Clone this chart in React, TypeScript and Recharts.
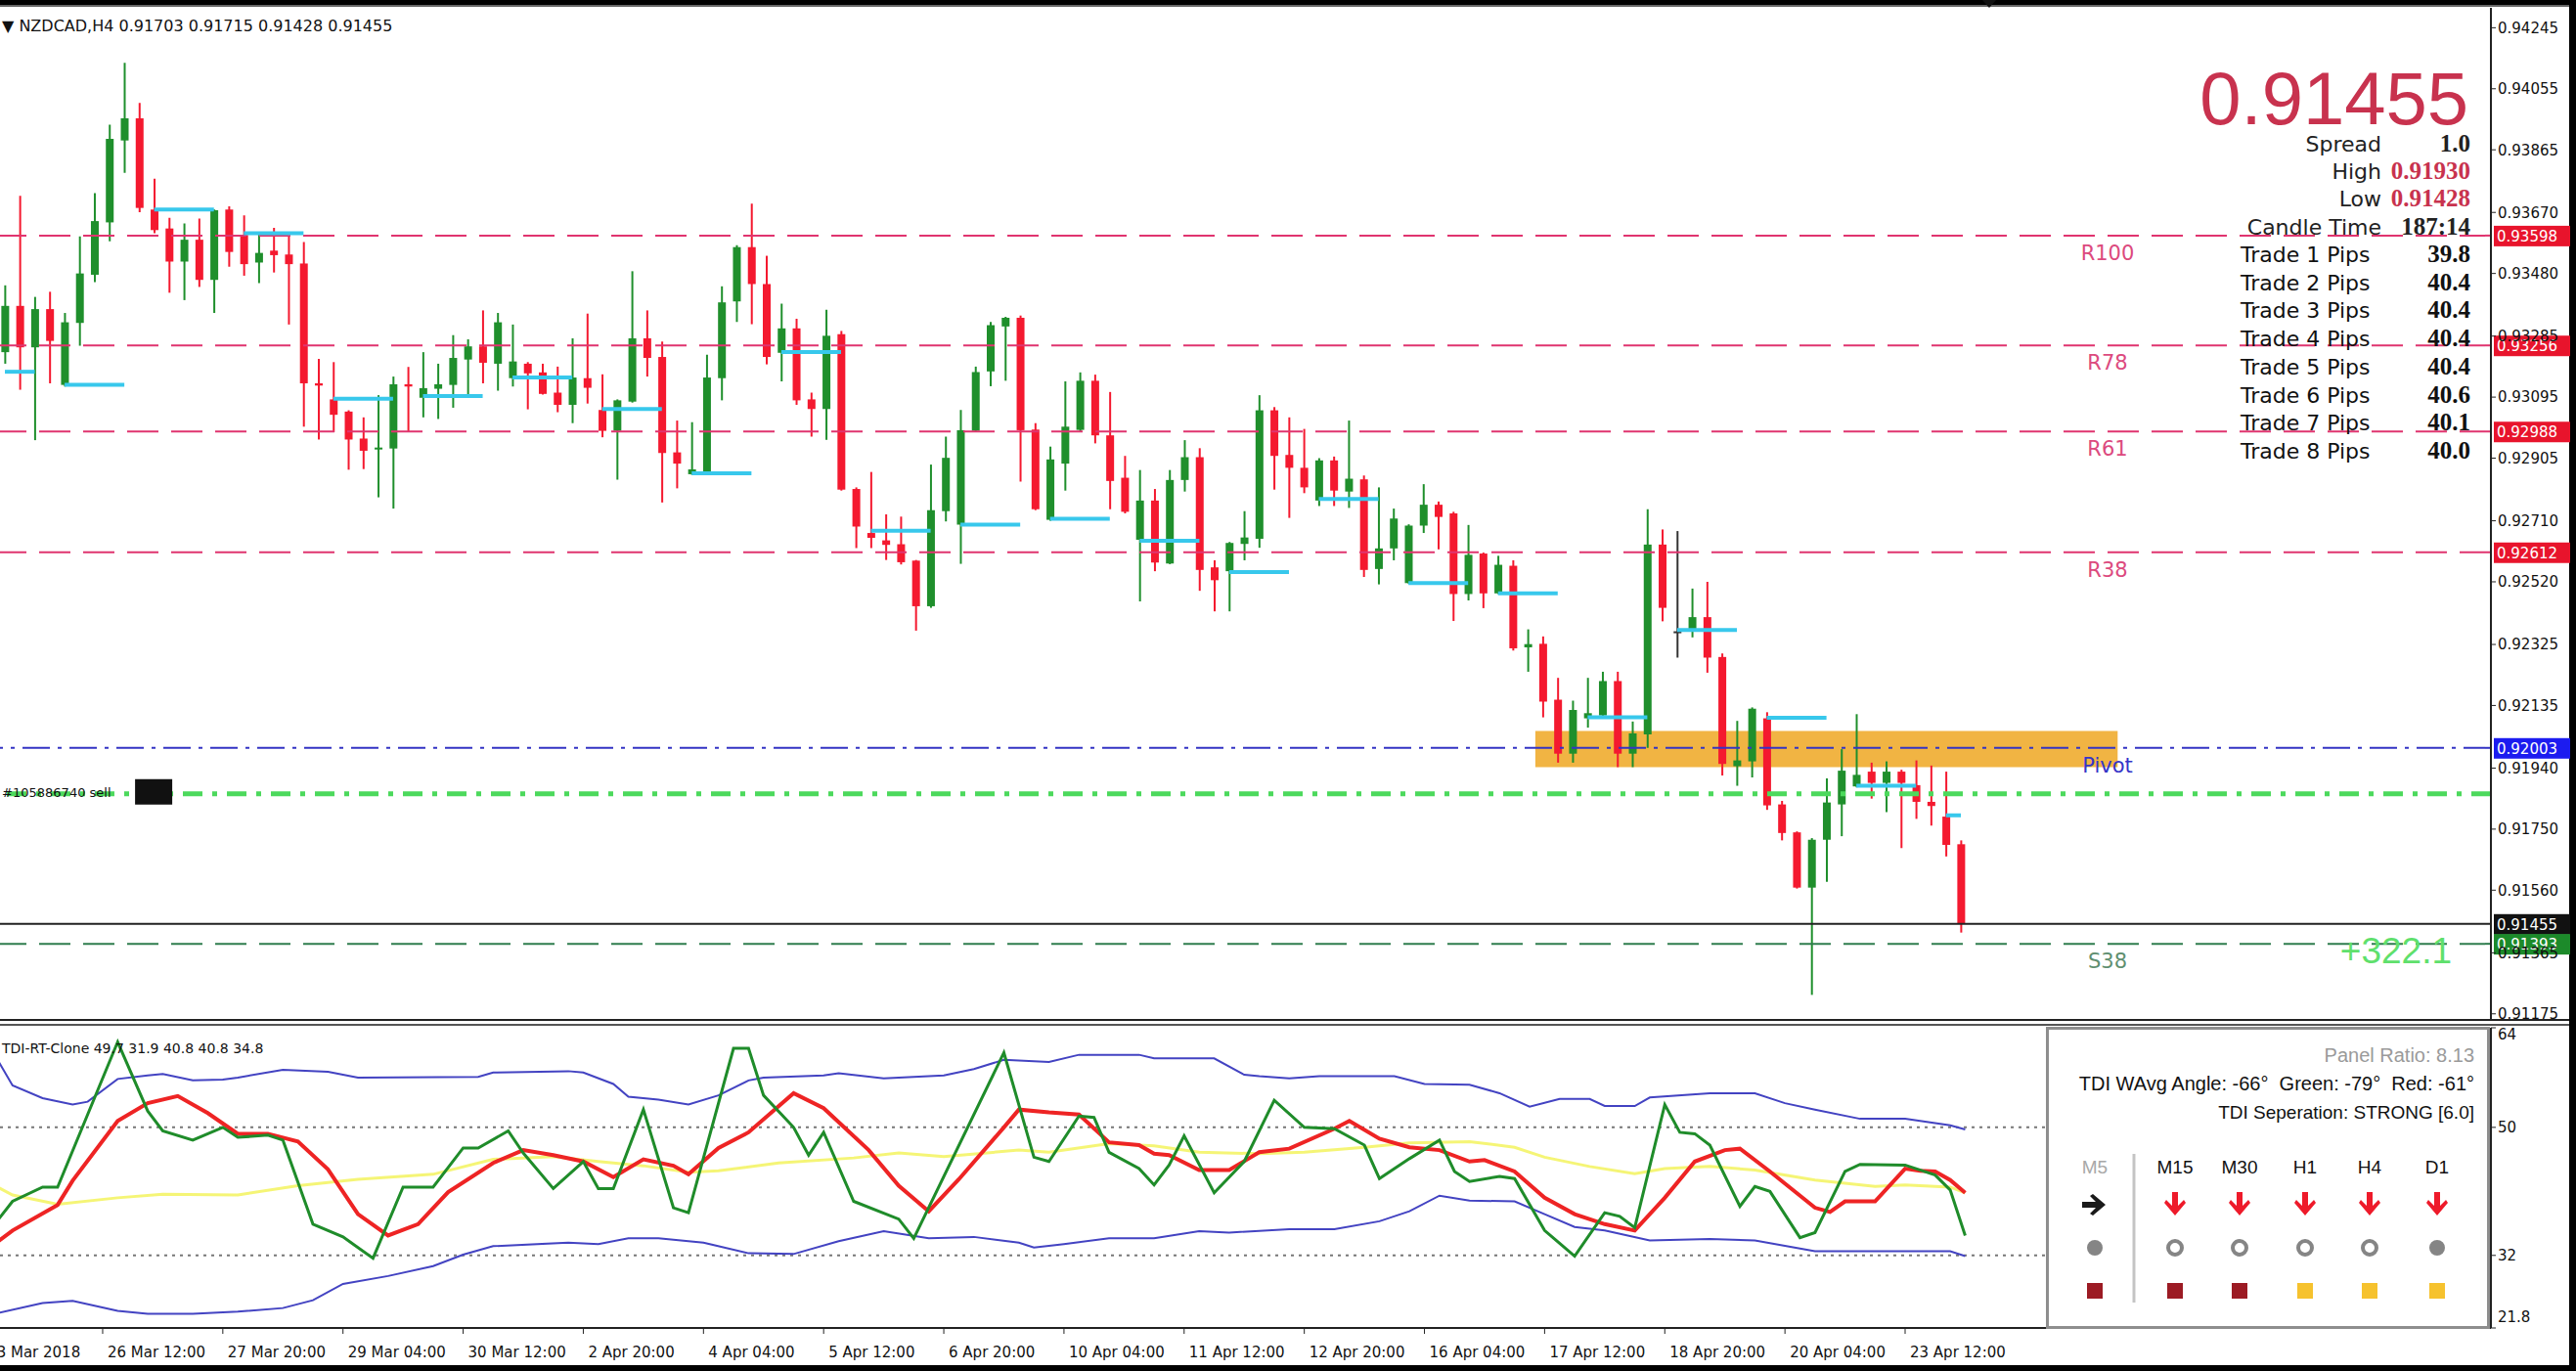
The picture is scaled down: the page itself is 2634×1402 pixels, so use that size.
import React from 'react';
import { Bar, ComposedChart, Line, ReferenceArea, ReferenceLine, XAxis, YAxis } from 'recharts';

const W = 2634;
const MAIN_H = 1043;
const AXIS_W = 87;
const PLOT_LEFT = -17.9;
const FIRST_SLOT = -1;
const LAST_SLOT = 166;

const GREEN = '#1f8f2c';
const RED = '#f4192f';
const PINK = '#e0346f';

// NZDCAD H4 candles
const OPEN = [
  0.93235, 0.93379, 0.9325, 0.93369, 0.93133, 0.93326, 0.93476, 0.93639, 0.93894, 0.93963,
  0.93679, 0.9362, 0.93517, 0.93585, 0.9346, 0.93679, 0.936, 0.93514, 0.93551, 0.93539,
  0.93511, 0.93138, 0.93088, 0.9305, 0.92966, 0.92932, 0.92935, 0.93135, 0.93093, 0.93121,
  0.93133, 0.93212, 0.93253, 0.93199, 0.93154, 0.93199, 0.93172, 0.93109, 0.93071, 0.93154,
  0.93055, 0.9299, 0.93081, 0.93278, 0.9322, 0.92923, 0.92855, 0.92862, 0.93154, 0.93393,
  0.93562, 0.93447, 0.93233, 0.93309, 0.93088, 0.93058, 0.93291, 0.92809, 0.92672, 0.92649,
  0.92637, 0.92586, 0.92444, 0.9274, 0.92698, 0.9299, 0.93175, 0.93315, 0.93342, 0.92994,
  0.92713, 0.92888, 0.92993, 0.93146, 0.92976, 0.92844, 0.92651, 0.92773, 0.92577, 0.92837,
  0.92908, 0.92565, 0.92553, 0.92638, 0.92654, 0.93054, 0.92915, 0.92875, 0.92773, 0.92898,
  0.92801, 0.92839, 0.9256, 0.92624, 0.92516, 0.92695, 0.9276, 0.92733, 0.92482, 0.92608,
  0.92484, 0.9257, 0.92316, 0.92327, 0.92153, 0.91985, 0.92095, 0.92104, 0.92211, 0.91985,
  0.92045, 0.92636, 0.92366, 0.92373, 0.9241, 0.92286, 0.91946, 0.91961, 0.92095, 0.91827,
  0.9174, 0.91568, 0.91717, 0.91827, 0.91883, 0.91929, 0.91894, 0.91929, 0.91887, 0.91835,
  0.91789, 0.91703,
];
const HIGH = [
  0.93443, 0.93722, 0.93407, 0.93423, 0.93357, 0.93595, 0.9373, 0.93943, 0.94136, 0.94011,
  0.93775, 0.93653, 0.93636, 0.93651, 0.93679, 0.93689, 0.93661, 0.93602, 0.93622, 0.936,
  0.93578, 0.93214, 0.93204, 0.93054, 0.93032, 0.93101, 0.93159, 0.93189, 0.93235, 0.93199,
  0.93288, 0.93275, 0.93365, 0.93357, 0.93321, 0.93204, 0.93199, 0.9319, 0.93278, 0.93355,
  0.93166, 0.93088, 0.93487, 0.93365, 0.93268, 0.93022, 0.93017, 0.93227, 0.9344, 0.93568,
  0.93697, 0.93535, 0.93386, 0.93339, 0.93109, 0.93367, 0.93301, 0.92814, 0.92862, 0.9273,
  0.92723, 0.92588, 0.92885, 0.92972, 0.93055, 0.9319, 0.93329, 0.93345, 0.93349, 0.93014,
  0.92941, 0.93144, 0.93172, 0.93165, 0.93111, 0.92912, 0.92868, 0.92809, 0.92868, 0.92961,
  0.92936, 0.92587, 0.92644, 0.9274, 0.93101, 0.93064, 0.93032, 0.92996, 0.92905, 0.9291,
  0.93022, 0.92851, 0.92814, 0.92748, 0.92699, 0.92824, 0.9277, 0.92738, 0.92697, 0.92611,
  0.92601, 0.92587, 0.92372, 0.9235, 0.92221, 0.9215, 0.92221, 0.9224, 0.9224, 0.92085,
  0.92746, 0.92683, 0.92678, 0.92499, 0.9252, 0.92297, 0.92087, 0.92129, 0.92114, 0.91838,
  0.91743, 0.91722, 0.91908, 0.91999, 0.92108, 0.91957, 0.91961, 0.91935, 0.91964, 0.91948,
  0.91929, 0.91715,
];
const LOW = [
  0.93199, 0.93118, 0.92961, 0.93138, 0.93128, 0.93255, 0.93453, 0.9358, 0.93793, 0.93671,
  0.93605, 0.9342, 0.93397, 0.93438, 0.93357, 0.93501, 0.93473, 0.9345, 0.93483, 0.93321,
  0.93003, 0.92963, 0.92986, 0.92869, 0.92871, 0.92783, 0.92748, 0.92986, 0.93032, 0.93027,
  0.93062, 0.93103, 0.93138, 0.93115, 0.93128, 0.93057, 0.93103, 0.93048, 0.93014, 0.93075,
  0.9297, 0.92838, 0.93078, 0.93159, 0.92767, 0.92811, 0.92853, 0.9286, 0.93085, 0.93329,
  0.93322, 0.93197, 0.93144, 0.93071, 0.92972, 0.92962, 0.92804, 0.92625, 0.92625, 0.92588,
  0.92574, 0.92368, 0.92439, 0.92708, 0.92576, 0.92987, 0.93129, 0.93146, 0.92832, 0.92743,
  0.9271, 0.92804, 0.92986, 0.92951, 0.92746, 0.92733, 0.92459, 0.92553, 0.92575, 0.92801,
  0.92492, 0.92428, 0.92428, 0.92587, 0.92626, 0.92807, 0.92719, 0.92796, 0.92756, 0.92756,
  0.9275, 0.92535, 0.92512, 0.92587, 0.92514, 0.92672, 0.92621, 0.92398, 0.92462, 0.92438,
  0.92482, 0.92306, 0.9224, 0.92098, 0.91957, 0.91957, 0.92066, 0.92095, 0.91943, 0.91943,
  0.92003, 0.92397, 0.92284, 0.92347, 0.92237, 0.91917, 0.91885, 0.91911, 0.9181, 0.91715,
  0.91565, 0.91234, 0.91586, 0.91728, 0.9188, 0.91845, 0.91803, 0.91691, 0.91782, 0.91761,
  0.91665, 0.91428,
];
const CLOSE = [
  0.93379, 0.9325, 0.93369, 0.9327, 0.93328, 0.9348, 0.93643, 0.93899, 0.93963, 0.93684,
  0.93615, 0.93517, 0.93585, 0.9346, 0.93677, 0.93547, 0.93509, 0.93544, 0.93537, 0.93509,
  0.93138, 0.93131, 0.9304, 0.92963, 0.92928, 0.92938, 0.93135, 0.93128, 0.93123, 0.93135,
  0.93217, 0.93253, 0.93202, 0.93328, 0.93206, 0.93169, 0.93105, 0.93071, 0.93156, 0.93124,
  0.9299, 0.93085, 0.93278, 0.93217, 0.92921, 0.92888, 0.9287, 0.93156, 0.9339, 0.93562,
  0.93447, 0.9322, 0.93309, 0.93085, 0.93058, 0.93286, 0.92807, 0.92692, 0.92657, 0.92635,
  0.92581, 0.92444, 0.92743, 0.92906, 0.92992, 0.93173, 0.93319, 0.93342, 0.92992, 0.92746,
  0.92901, 0.93003, 0.93146, 0.92976, 0.92834, 0.92738, 0.92773, 0.9258, 0.92837, 0.92908,
  0.92557, 0.92525, 0.92641, 0.92658, 0.93054, 0.92912, 0.92875, 0.92814, 0.92898, 0.92804,
  0.92841, 0.92557, 0.92624, 0.92717, 0.92695, 0.9276, 0.92722, 0.92482, 0.92604, 0.92484,
  0.92573, 0.92313, 0.92326, 0.92147, 0.91985, 0.92121, 0.92111, 0.92211, 0.91985, 0.92048,
  0.92636, 0.92439, 0.92366, 0.9241, 0.92284, 0.91953, 0.91964, 0.92125, 0.91824, 0.91738,
  0.91568, 0.91717, 0.91833, 0.91932, 0.91919, 0.91894, 0.91929, 0.91894, 0.91835, 0.91822,
  0.91701, 0.91455,
];

const PRICE_TICKS = [
  0.94245, 0.94055, 0.93865, 0.9367, 0.9348, 0.93285, 0.93095, 0.92905, 0.9271, 0.9252, 0.92325,
  0.92135, 0.9194, 0.9175, 0.9156, 0.91365, 0.91175,
];

const TIME_SLOTS = [-1, 7, 15, 23, 31, 39, 47, 55, 63, 71, 79, 87, 95, 103, 111, 119, 127];
const TIME_LABELS = [
  '23 Mar 2018', '26 Mar 12:00', '27 Mar 20:00', '29 Mar 04:00', '30 Mar 12:00', '2 Apr 20:00',
  '4 Apr 04:00', '5 Apr 12:00', '6 Apr 20:00', '10 Apr 04:00', '11 Apr 12:00', '12 Apr 20:00',
  '16 Apr 04:00', '17 Apr 12:00', '18 Apr 20:00', '20 Apr 04:00', '23 Apr 12:00',
];

const LEVEL_NAMES = ['R100', 'R78', 'R61', 'R38'];
const LEVEL_PRICES = [0.93598, 0.93256, 0.92988, 0.92612];
const PIVOT = 0.92003;
const S38 = 0.91393;
const BID = 0.91455;
const ORDER_PRICE = 0.9186;
const ORDER_TICKET = '#105886740 sell';
const PROFIT = '+322.1';
const ZONE_PRICES = [0.92056, 0.91943];
const ZONE_SLOTS = [103, 141];

const DAY_OPEN_FROM = [0, 4, 10, 16, 22, 28, 34, 40, 46, 52, 58, 64, 70, 76, 82, 88, 94, 100, 106, 112, 118, 124, 130];
const DAY_OPEN_TO = [2, 8, 14, 20, 26, 32, 38, 44, 50, 56, 62, 68, 74, 80, 86, 92, 98, 104, 110, 116, 122, 128, 131];
const DAY_OPEN_PRICE = [
  0.93174, 0.93133, 0.93679, 0.93605, 0.9309, 0.93098, 0.93156, 0.93058, 0.92858, 0.93235, 0.92679,
  0.92698, 0.92716, 0.92648, 0.9255, 0.92778, 0.92516, 0.92484, 0.92098, 0.9237, 0.92097, 0.91885,
  0.91793,
];

// TDI vertices [candle, value]
const TDI_GREEN = [
  [0, 36.9], [1, 39.6], [3, 41.6], [4, 41.6], [8, 62.0], [10, 52.3], [11, 49.5], [13, 48.2], [15, 50.0],
  [16, 48.6], [18, 48.9], [19, 48.2], [21, 36.4], [23, 34.6], [25, 31.6], [27, 41.6], [29, 41.6],
  [31, 47.1], [32, 47.1], [34, 49.5], [35, 46.4], [37, 41.4], [39, 45.2], [40, 41.4], [41, 41.4],
  [43, 52.5], [45, 38.7], [46, 38.0], [49, 61.1], [50, 61.1], [51, 54.5], [53, 50.0], [54, 46.1],
  [55, 49.3], [57, 39.6], [60, 37.1], [61, 34.4], [67, 60.5], [69, 45.8], [70, 45.2], [72, 51.6],
  [73, 51.4], [74, 46.5], [76, 44.2], [77, 41.9], [78, 44.7], [79, 48.8], [81, 40.8], [83, 45.2],
  [85, 53.8], [87, 50.0], [89, 49.8], [91, 47.5], [92, 42.8], [94, 45.6], [96, 48.2], [97, 43.8],
  [98, 42.4], [100, 43.1], [101, 42.8], [103, 35.5], [105, 31.9], [107, 38.0], [108, 37.5], [109, 35.9],
  [111, 53.2], [112, 49.3], [113, 49.1], [114, 47.5], [116, 38.9], [117, 41.7], [118, 41.0], [120, 34.5],
  [121, 35.2], [123, 43.8], [124, 44.8], [127, 44.7], [129, 43.3], [130, 41.2], [131, 34.8],
];
const TDI_RED = [
  [0, 33.9], [1, 35.5], [4, 39.1], [5, 42.5], [8, 50.9], [10, 53.4], [12, 54.4], [14, 52.0], [16, 49.1],
  [18, 49.1], [20, 48.0], [22, 44.1], [24, 37.8], [26, 34.8], [28, 36.4], [30, 40.9], [33, 45.0],
  [35, 46.8], [37, 46.1], [39, 45.2], [41, 43.0], [43, 45.5], [45, 44.6], [46, 43.4], [48, 47.1],
  [50, 49.3], [53, 54.8], [55, 52.7], [58, 46.8], [60, 41.8], [62, 38.2], [64, 42.7], [67, 50.0],
  [68, 52.5], [70, 52.1], [72, 51.8], [74, 47.9], [76, 47.5], [77, 46.3], [78, 46.1], [80, 44.0],
  [82, 44.0], [84, 46.5], [86, 47.0], [89, 49.8], [90, 50.9], [92, 48.4], [94, 47.2], [96, 46.8],
  [98, 45.2], [99, 45.4], [101, 43.8], [103, 40.1], [105, 37.8], [107, 36.4], [109, 35.5], [111, 40.1],
  [113, 45.2], [115, 46.8], [116, 47.0], [118, 43.8], [121, 38.7], [122, 38.1], [123, 39.6], [125, 39.6],
  [127, 44.2], [128, 43.9], [129, 43.8], [130, 42.6], [131, 40.8],
];
const TDI_UPPER = [
  [0, 59.5], [1, 55.9], [3, 54.1], [5, 53.2], [6, 53.6], [8, 56.8], [10, 57.3], [11, 57.5], [13, 56.6],
  [15, 56.7], [16, 57.0], [19, 58.1], [22, 57.8], [24, 57.0], [32, 57.1], [33, 57.7], [38, 57.9],
  [39, 57.7], [41, 56.1], [42, 54.3], [44, 53.9], [46, 53.2], [48, 54.5], [50, 56.6], [51, 57.0],
  [55, 57.3], [56, 57.6], [59, 56.9], [63, 57.3], [65, 58.2], [67, 59.5], [70, 59.2], [72, 60.2],
  [76, 60.2], [77, 59.7], [81, 59.7], [83, 57.4], [84, 57.2], [86, 56.9], [88, 57.2], [93, 57.2],
  [95, 56.1], [98, 56.0], [100, 54.8], [102, 52.9], [104, 54.0], [106, 54.0], [107, 53.0], [109, 53.0],
  [110, 54.2], [114, 54.8], [117, 54.8], [119, 53.4], [121, 52.5], [124, 51.2], [127, 51.2], [130, 50.3],
  [131, 49.7],
];
const TDI_LOWER = [
  [0, 23.9], [3, 25.3], [5, 25.6], [8, 24.2], [10, 23.8], [13, 23.8], [16, 24.1], [19, 24.6], [21, 25.7],
  [23, 28.0], [26, 29.1], [29, 30.5], [31, 32.1], [33, 33.3], [38, 33.8], [40, 33.6], [42, 34.4],
  [44, 34.4], [47, 33.8], [50, 32.3], [53, 32.2], [56, 34.0], [59, 35.4], [62, 34.4], [65, 34.6],
  [68, 33.8], [69, 33.1], [71, 33.6], [74, 34.4], [77, 34.4], [80, 35.4], [82, 35.2], [86, 35.7],
  [89, 35.7], [92, 36.8], [94, 38.2], [96, 40.4], [98, 39.7], [101, 39.6], [103, 37.8], [105, 36.0],
  [107, 35.5], [110, 34.1], [114, 34.3], [117, 34.1], [121, 32.6], [125, 32.6], [130, 32.6], [131, 31.9],
];
const TDI_MID = [
  [0, 41.6], [1, 40.5], [4, 39.2], [8, 40.1], [11, 40.6], [16, 40.5], [20, 41.8], [24, 42.7], [29, 43.4],
  [33, 45.5], [37, 45.9], [40, 45.2], [43, 44.6], [46, 43.7], [48, 43.9], [52, 45.0], [57, 45.7],
  [60, 46.4], [63, 45.9], [68, 46.8], [70, 46.5], [74, 47.7], [77, 47.4], [80, 46.5], [84, 46.3],
  [87, 46.5], [91, 47.2], [94, 47.8], [98, 48.0], [101, 47.2], [103, 45.8], [106, 44.5], [109, 43.5],
  [111, 44.2], [114, 44.5], [117, 44.0], [121, 42.6], [125, 41.7], [127, 41.9], [130, 41.6], [131, 40.8],
];
const TDI_TICKS = [64, 50, 32, 21.8];
const TDI_LEVELS = [50, 32];
const TDI_HEADER = 'TDI-RT-Clone 49.7 31.9 40.8 40.8 34.8';

const TRADE_PIPS = ['39.8', '40.4', '40.4', '40.4', '40.4', '40.6', '40.1', '40.0'];
const TF_NAMES = ['M5', 'M15', 'M30', 'H1', 'H4', 'D1'];
const TF_ARROW = ['right', 'down', 'down', 'down', 'down', 'down'];
const TF_DOT = ['solid', 'ring', 'ring', 'ring', 'ring', 'solid'];
const TF_BOX = ['weak', 'weak', 'weak', 'strong', 'strong', 'strong'];

const slots = Array.from({ length: LAST_SLOT - FIRST_SLOT + 1 }, (_, k) => FIRST_SLOT + k);

const candleRows = slots.map((i) =>
  i >= 0 && i < OPEN.length
    ? { i, o: OPEN[i], hi: HIGH[i], lo: LOW[i], c: CLOSE[i], range: [LOW[i], HIGH[i]] }
    : { i },
);

const pick = (pts: number[][], i: number) => {
  const p = pts.find((q) => q[0] === i);
  return p ? p[1] : null;
};

const tdiRows = slots.map((i) => ({
  i,
  up: pick(TDI_UPPER, i),
  lo: pick(TDI_LOWER, i),
  mid: pick(TDI_MID, i),
  red: pick(TDI_RED, i),
  green: pick(TDI_GREEN, i),
}));

function Candle(props: any) {
  const { x, y, width, height, payload } = props;
  if (!payload || payload.o == null || !Number.isFinite(y)) return <g />;
  const top = Math.min(y, y + height);
  const h = Math.abs(height);
  const { o, hi, lo, c } = payload;
  const toY = (v: number) => top + ((hi - v) / (hi - lo)) * h;
  const color = c === o ? '#333' : c > o ? GREEN : RED;
  const bodyTop = toY(Math.max(o, c));
  const bodyBot = toY(Math.min(o, c));
  const cx = x + width / 2;
  return (
    <g>
      <line x1={cx} x2={cx} y1={top} y2={top + h} stroke={color} strokeWidth={2} />
      <rect x={x} y={bodyTop} width={width} height={Math.max(bodyBot - bodyTop, 2)} fill={color} />
    </g>
  );
}

function LevelLabel(props: any) {
  const { viewBox, name, nameFill, tag, tagFill } = props;
  if (!viewBox) return <g />;
  const right = viewBox.x + viewBox.width;
  const y = viewBox.y;
  return (
    <g>
      {name ? (
        <text x={right - 392} y={y + 25} textAnchor="middle" fontSize={21} fill={nameFill} fontFamily="DejaVu Sans">
          {name}
        </text>
      ) : null}
      {tag ? (
        <g>
          <rect x={right + 3} y={y - 10} width={78} height={21} fill={tagFill} />
          <text x={right + 6} y={y + 6} fontSize={15} fill="#fff" fontFamily="DejaVu Sans">
            {tag}
          </text>
        </g>
      ) : null}
    </g>
  );
}

function OrderLabel(props: any) {
  const { viewBox } = props;
  if (!viewBox) return <g />;
  return (
    <g>
      <text x={viewBox.x + 20} y={viewBox.y + 3} fontSize={13} fill="#111" fontFamily="DejaVu Sans">
        {ORDER_TICKET}
      </text>
      <rect x={viewBox.x + 156} y={viewBox.y - 15} width={38} height={26} fill="#111" />
    </g>
  );
}

function S38Label(props: any) {
  const { viewBox } = props;
  if (!viewBox) return <g />;
  const right = viewBox.x + viewBox.width;
  return (
    <g>
      <LevelLabel viewBox={viewBox} name="S38" nameFill="#5f8f70" tag={S38.toFixed(5)} tagFill="#1c8a2a" />
      <text x={right - 40} y={viewBox.y + 20} textAnchor="end" fontSize={37} fill="#5fe06c" fontFamily="Liberation Sans">
        {PROFIT}
      </text>
    </g>
  );
}

function TimeTick(props: any) {
  const { x, y, payload } = props;
  const k = TIME_SLOTS.indexOf(payload.value);
  return (
    <text x={x + 5} y={y + 22} fontSize={15} fill="#111" fontFamily="DejaVu Sans">
      {TIME_LABELS[k]}
    </text>
  );
}

function TdiTick(props: any) {
  const { x, y, payload } = props;
  const v = payload.value;
  const dy = v === 64 ? 12 : v === 21.8 ? -6 : 5;
  return (
    <text x={x} y={y + dy} fontSize={15} fill="#111" fontFamily="DejaVu Sans">
      {String(v)}
    </text>
  );
}

function MainChart() {
  return (
    <ComposedChart width={W} height={MAIN_H} data={candleRows} margin={{ top: 8, right: 0, bottom: 0, left: PLOT_LEFT }}>
      <XAxis dataKey="i" type="category" hide />
      <YAxis
        orientation="right"
        width={AXIS_W}
        domain={[0.91156, 0.94307]}
        allowDataOverflow
        ticks={PRICE_TICKS}
        interval={0}
        tickFormatter={(v: number) => v.toFixed(5)}
        tick={{ fontSize: 15, fill: '#111', fontFamily: 'DejaVu Sans' }}
        tickSize={5}
        tickLine={{ stroke: '#222' }}
        axisLine={{ stroke: '#222', strokeWidth: 2 }}
      />
      <ReferenceArea
        x1={ZONE_SLOTS[0]}
        x2={ZONE_SLOTS[1]}
        y1={ZONE_PRICES[0]}
        y2={ZONE_PRICES[1]}
        fill="#f1b443"
        fillOpacity={1}
        stroke="none"
      />
      <Bar dataKey="range" barSize={8} isAnimationActive={false} shape={(p: any) => <Candle {...p} />} />
      {LEVEL_PRICES.map((p, k) => (
        <ReferenceLine
          key={LEVEL_NAMES[k]}
          y={p}
          stroke={PINK}
          strokeWidth={2}
          strokeDasharray="32 13"
          label={(lp: any) => (
            <LevelLabel {...lp} name={LEVEL_NAMES[k]} nameFill="#dc4a7e" tag={p.toFixed(5)} tagFill="#e8142c" />
          )}
        />
      ))}
      <ReferenceLine
        y={PIVOT}
        stroke="#3434c4"
        strokeWidth={2}
        strokeDasharray="28 8 4 8"
        label={(lp: any) => <LevelLabel {...lp} name="Pivot" nameFill="#3535c8" tag={PIVOT.toFixed(5)} tagFill="#1c1cf0" />}
      />
      <ReferenceLine
        y={ORDER_PRICE}
        stroke="#4cd95c"
        strokeWidth={5}
        strokeDasharray="20 10 5 10"
        label={(lp: any) => <OrderLabel {...lp} />}
      />
      <ReferenceLine
        y={BID}
        stroke="#222"
        strokeWidth={2}
        label={(lp: any) => <LevelLabel {...lp} tag={BID.toFixed(5)} tagFill="#111" />}
      />
      <ReferenceLine
        y={S38}
        stroke="#2f7d4e"
        strokeWidth={2}
        strokeDasharray="32 13"
        label={(lp: any) => <S38Label {...lp} />}
      />
      {DAY_OPEN_PRICE.map((p, k) => (
        <ReferenceLine
          key={'d' + k}
          segment={[
            { x: DAY_OPEN_FROM[k], y: p },
            { x: DAY_OPEN_TO[k], y: p },
          ]}
          stroke="#38c8ec"
          strokeWidth={4}
        />
      ))}
    </ComposedChart>
  );
}

function TdiChart() {
  return (
    <ComposedChart width={W} height={355} data={tdiRows} margin={{ top: 8, right: 0, bottom: 0, left: PLOT_LEFT }}>
      <XAxis
        dataKey="i"
        type="category"
        ticks={TIME_SLOTS}
        interval={0}
        height={40}
        tickSize={6}
        tick={<TimeTick />}
        tickLine={{ stroke: '#222' }}
        axisLine={{ stroke: '#222', strokeWidth: 2 }}
      />
      <YAxis
        orientation="right"
        width={AXIS_W}
        domain={[21.8, 64]}
        allowDataOverflow
        ticks={TDI_TICKS}
        interval={0}
        tickSize={5}
        tick={<TdiTick />}
        tickLine={{ stroke: '#222' }}
        axisLine={{ stroke: '#222', strokeWidth: 2 }}
      />
      {TDI_LEVELS.map((v) => (
        <ReferenceLine key={v} y={v} stroke="#777" strokeWidth={2} strokeDasharray="3 5" />
      ))}
      <Line dataKey="mid" stroke="#f3f35e" strokeOpacity={0.85} strokeWidth={3} dot={false} connectNulls isAnimationActive={false} />
      <Line dataKey="up" stroke="#4343c2" strokeWidth={2} dot={false} connectNulls isAnimationActive={false} />
      <Line dataKey="lo" stroke="#4343c2" strokeWidth={2} dot={false} connectNulls isAnimationActive={false} />
      <Line dataKey="red" stroke="#ee2424" strokeWidth={4} dot={false} connectNulls isAnimationActive={false} />
      <Line dataKey="green" stroke="#1f8c2a" strokeWidth={3} dot={false} connectNulls isAnimationActive={false} />
    </ComposedChart>
  );
}

function Arrow({ cx, cy, dir }: { cx: number; cy: number; dir: string }) {
  const pts = [
    [-3, -13], [3, -13], [3, 1], [9, -5], [11, -2], [0, 11], [-11, -2], [-9, -5], [-3, 1],
  ];
  const rot = dir === 'right' ? -90 : 0;
  return (
    <polygon
      points={pts.map((p) => `${cx + p[0]},${cy + p[1]}`).join(' ')}
      fill={dir === 'right' ? '#1a1a1a' : '#ee1a2a'}
      transform={`rotate(${rot} ${cx} ${cy})`}
    />
  );
}

function TdiPanel() {
  const cols = [47, 129, 195, 262, 328, 397];
  return (
    <div
      style={{
        position: 'absolute',
        left: 2092,
        top: 1050,
        width: 454,
        height: 309,
        boxSizing: 'border-box',
        border: '3px solid #8e8e8e',
        background: '#fff',
      }}
    >
      <svg width={448} height={303} style={{ position: 'absolute', left: 0, top: 0 }} fontFamily="Liberation Sans">
        <text x={435} y={33} textAnchor="end" fontSize={20} fill="#9a9a9a">Panel Ratio: 8.13</text>
        <text x={435} y={62} textAnchor="end" fontSize={20} fill="#111">
          {'TDI WAvg Angle: -66°\u00a0\u00a0Green: -79°\u00a0\u00a0Red: -61°'}
        </text>
        <text x={435} y={91} textAnchor="end" fontSize={19} fill="#111">TDI Seperation: STRONG [6.0]</text>
        <line x1={87} x2={87} y1={127} y2={279} stroke="#c4c4c4" strokeWidth={3} />
        {TF_NAMES.map((n, k) => (
          <g key={n}>
            <text x={cols[k]} y={147} textAnchor="middle" fontSize={19} fill={k === 0 ? '#a8a8a8' : '#111'}>{n}</text>
            <Arrow cx={cols[k]} cy={179} dir={TF_ARROW[k]} />
            {TF_DOT[k] === 'solid' ? (
              <circle cx={cols[k]} cy={223} r={8} fill="#858585" />
            ) : (
              <circle cx={cols[k]} cy={223} r={7} fill="none" stroke="#858585" strokeWidth={4} />
            )}
            <rect x={cols[k] - 8} y={259} width={16} height={16} fill={TF_BOX[k] === 'weak' ? '#9c1b24' : '#f6c22e'} />
          </g>
        ))}
      </svg>
    </div>
  );
}

function InfoOverlay() {
  const rowsY = [155, 183, 211, 240];
  return (
    <svg
      width={W}
      height={1402}
      style={{ position: 'absolute', left: 0, top: 0, pointerEvents: 'none' }}
      fontFamily="DejaVu Sans"
    >
      <polygon points="2027,0 2041,0 2034,8" fill="#111" />
      <text x={2} y={32} fontSize={16} fill="#111">▼ NZDCAD,H4 0.91703 0.91715 0.91428 0.91455</text>
      <text x={2524} y={127} textAnchor="end" fontSize={76} fill="#c8324e" fontFamily="Liberation Sans">
        {BID.toFixed(5)}
      </text>
      <text x={2435} y={rowsY[0]} textAnchor="end" fontSize={22} fill="#222">Spread</text>
      <text x={2526} y={rowsY[0]} textAnchor="end" fontSize={25} fontWeight="bold" fill="#222" fontFamily="Liberation Serif">1.0</text>
      <text x={2435} y={rowsY[1]} textAnchor="end" fontSize={22} fill="#222">High</text>
      <text x={2526} y={rowsY[1]} textAnchor="end" fontSize={25} fontWeight="bold" fill="#c8324e" fontFamily="Liberation Serif">0.91930</text>
      <text x={2435} y={rowsY[2]} textAnchor="end" fontSize={22} fill="#222">Low</text>
      <text x={2526} y={rowsY[2]} textAnchor="end" fontSize={25} fontWeight="bold" fill="#c8324e" fontFamily="Liberation Serif">0.91428</text>
      <text x={2435} y={rowsY[3]} textAnchor="end" fontSize={22} fill="#222">Candle Time</text>
      <text x={2526} y={rowsY[3]} textAnchor="end" fontSize={25} fontWeight="bold" fill="#222" fontFamily="Liberation Serif">187:14</text>
      {TRADE_PIPS.map((v, k) => (
        <g key={k}>
          <text x={2291} y={268 + k * 28.7} fontSize={22} fill="#111">{`Trade ${k + 1} Pips`}</text>
          <text x={2526} y={268 + k * 28.7} textAnchor="end" fontSize={25} fontWeight="bold" fill="#111" fontFamily="Liberation Serif">
            {v}
          </text>
        </g>
      ))}
      <text x={2} y={1077} fontSize={14} fill="#111">{TDI_HEADER}</text>
    </svg>
  );
}

export default function App() {
  return (
    <div
      style={{
        position: 'absolute',
        left: 0,
        top: 0,
        width: W,
        height: 1402,
        background: '#000',
        overflow: 'hidden',
        fontFamily: 'DejaVu Sans',
      }}
    >
      <div style={{ position: 'absolute', left: 0, top: 5, width: 2627, height: 1391, background: '#fff' }} />
      <div style={{ position: 'absolute', left: 0, top: 5, width: 2627, height: 2, background: '#666' }} />
      <div style={{ position: 'absolute', left: 0, top: 0 }}>
        <MainChart />
      </div>
      <div style={{ position: 'absolute', left: 0, top: 1042, width: 2627, height: 2, background: '#222' }} />
      <div style={{ position: 'absolute', left: 0, top: 1047, width: 2627, height: 2, background: '#555' }} />
      <div style={{ position: 'absolute', left: 0, top: 1043 }}>
        <TdiChart />
      </div>
      <TdiPanel />
      <InfoOverlay />
    </div>
  );
}
